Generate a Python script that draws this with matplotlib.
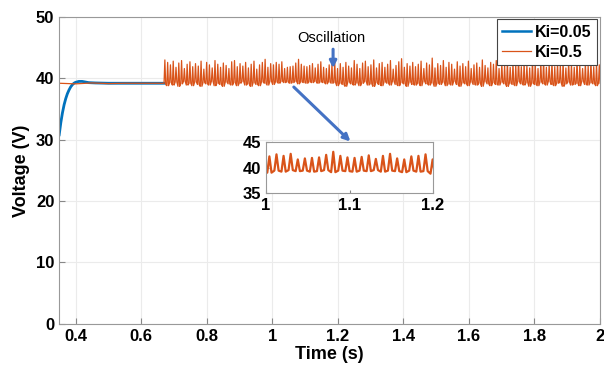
import numpy as np
import matplotlib.pyplot as plt

# Ki=0.05 response (time, voltage); hidden under the Ki=0.5 trace after ~0.67 s
blue_t = [0.35, 0.355, 0.36, 0.365, 0.37, 0.375, 0.38, 0.385, 0.39, 0.395, 0.40,
          0.41, 0.42, 0.43, 0.44, 0.46, 0.50, 0.60, 0.67]
blue_v = [30.8, 32.8, 34.4, 35.7, 36.7, 37.5, 38.1, 38.6, 38.95, 39.2, 39.35,
          39.5, 39.5, 39.4, 39.3, 39.25, 39.2, 39.2, 39.2]

# Ki=0.5 response: flat part, then oscillation (trough / peak per cycle)
flat_t = [0.35, 0.40, 0.45, 0.50, 0.55, 0.60, 0.67]
flat_v = [39.2, 39.1, 39.25, 39.15, 39.2, 39.2, 39.2]
osc_start = 0.67
osc_period = 0.0085
osc_peaks = [
    43.0, 42.6, 42.2, 42.8, 41.8, 42.5, 42.9, 41.6, 42.3, 42.7,
    41.9, 42.4, 42.0, 42.8, 41.5, 42.6, 42.2, 41.7, 42.9, 42.3,
    41.8, 42.5, 42.1, 41.6, 42.7, 42.9, 41.9, 42.4, 42.0, 42.6,
    41.7, 42.3, 42.8, 41.5, 42.2, 42.6, 43.1, 41.8, 42.4, 42.2,
    42.6, 42.3, 42.7, 41.6, 41.8, 41.9, 42.0, 42.5, 43.1, 42.3,
    42.0, 41.9, 42.1, 42.4, 41.7, 42.3, 42.7, 41.8, 41.6, 42.2,
    42.3, 42.6, 41.6, 42.4, 41.8, 42.6, 42.0, 41.7, 42.9, 42.3,
    41.6, 42.5, 42.8, 41.9, 42.2, 43.0, 41.7, 42.4, 42.6, 41.8,
    42.3, 42.9, 41.5, 42.1, 42.7, 43.2, 41.8, 42.4, 42.0, 42.6,
    41.9, 42.3, 42.8, 41.6, 42.5, 42.2, 43.3, 41.7, 42.4, 42.1,
    42.9, 41.8, 42.6, 42.3, 41.5, 42.7, 42.0, 42.4, 41.9, 42.8,
    41.6, 42.2, 42.5, 41.8, 43.0, 42.1, 41.7, 42.6, 42.3, 42.9,
    41.6, 42.4, 42.0, 42.7, 41.8, 42.5, 42.2, 43.1, 41.9, 42.6,
    42.0, 41.7, 42.8, 42.3, 41.6, 42.5, 42.9, 41.8, 42.2, 42.7,
    41.9, 42.4, 42.1, 42.8, 41.7, 42.6, 42.3, 41.8, 42.9, 42.2,
    41.6, 42.5, 42.0, 42.7, 41.9, 42.4, 42.2,
]
osc_troughs = [
    39.0, 38.8, 39.3, 38.9, 39.4, 38.7, 39.1, 39.5, 38.9, 39.2,
    38.8, 39.4, 39.0, 38.7, 39.3, 39.1, 38.9, 39.5, 38.8, 39.2,
    39.0, 38.7, 39.4, 39.1, 38.9, 39.3, 38.8, 39.2, 39.5, 38.9,
    39.1, 38.7, 39.3, 39.0, 38.8, 39.4, 39.2, 38.9, 39.5, 39.0,
    39.4, 39.2, 39.5, 39.3, 39.4, 39.2, 39.3, 39.5, 39.1, 39.4,
    39.3, 39.2, 39.4, 39.3, 39.5, 39.2, 39.4, 39.3, 39.1, 39.4,
    39.2, 39.3, 38.8, 39.2, 39.0, 38.7, 39.4, 39.1, 38.9, 39.3,
    38.8, 39.2, 39.5, 38.9, 39.1, 38.7, 39.3, 39.0, 38.8, 39.4,
    39.2, 38.9, 39.5, 39.0, 38.8, 39.3, 39.1, 38.7, 39.4, 39.0,
    38.9, 39.2, 38.8, 39.5, 39.1, 38.9, 39.3, 38.7, 39.2, 39.0,
    39.4, 38.8, 39.1, 38.9, 39.5, 39.0, 38.7, 39.3, 39.1, 38.8,
    39.4, 39.0, 38.9, 39.2, 38.7, 39.5, 39.1, 38.8, 39.3, 39.0,
    38.9, 39.4, 39.1, 38.7, 39.2, 39.0, 38.8, 39.5, 39.1, 38.9,
    39.3, 38.7, 39.2, 39.0, 38.8, 39.4, 39.1, 38.9, 39.5, 39.0,
    38.8, 39.2, 39.3, 38.7, 39.1, 39.4, 38.9, 39.0, 39.2, 38.8,
    39.5, 39.0, 38.9, 39.3, 39.1, 38.8, 39.2,
]

xticks = [0.4, 0.6, 0.8, 1, 1.2, 1.4, 1.6, 1.8, 2]
xticklabels = ["0.4", "0.6", "0.8", "1", "1.2", "1.4", "1.6", "1.8", "2"]
yticks = [0, 10, 20, 30, 40, 50]

blue = "#0072BD"
orange = "#D95319"

# build the orange series: each cycle is trough -> narrow peak -> trough
n = len(osc_peaks)
cyc0 = osc_start + np.arange(n) * osc_period
osc_t = np.column_stack([cyc0, cyc0 + 0.3 * osc_period, cyc0 + 0.6 * osc_period]).ravel()
osc_v = np.column_stack([osc_troughs, osc_peaks, osc_troughs]).ravel()
orange_t = np.concatenate([flat_t, osc_t[1:]])
orange_v = np.concatenate([flat_v, osc_v[1:]])

plt.rcParams['font.family'] = ['Liberation Sans', 'DejaVu Sans']
fig = plt.figure(figsize=(6.04, 3.77), dpi=100)
ax = fig.add_axes([0.098, 0.141, 0.895, 0.814])
ax.plot(blue_t, blue_v, color=blue, lw=2, label="Ki=0.05")
ax.plot(orange_t, orange_v, color=orange, lw=0.9, label="Ki=0.5")
ax.set_xlim(0.35, 2)
ax.set_ylim(0, 50)
ax.set_xticks(xticks)
ax.set_xticklabels(xticklabels)
ax.set_yticks(yticks)
ax.grid(True, color="#ebebeb", lw=0.8)
ax.set_axisbelow(True)
ax.tick_params(direction="in", labelsize=12, color="#888888", length=4, top=False, right=False)
for lab in ax.get_xticklabels() + ax.get_yticklabels():
    lab.set_fontweight("bold")
for s in ax.spines.values():
    s.set_color("#999999")
ax.set_xlabel("Time (s)", fontsize=13, fontweight="bold", labelpad=2)
ax.set_ylabel("Voltage (V)", fontsize=13, fontweight="bold", labelpad=4)

leg = ax.legend(loc="upper right", prop={"weight": "bold", "size": 11.5},
                handlelength=1.8, borderaxespad=0.15, fancybox=False, framealpha=1,
                edgecolor="#444444", borderpad=0.35, labelspacing=0.3, handletextpad=0.25)
leg.get_frame().set_linewidth(0.8)
leg.get_lines()[0].set_linewidth(1.8)

# annotations
ax.text(1.18, 46.6, "Oscillation", fontsize=10.5, ha="center", va="center")
ax.annotate("", xy=(1.186, 41.2), xytext=(1.186, 45.2),
            arrowprops=dict(arrowstyle="-|>", color="#4472C4", lw=2.2, mutation_scale=10))
ax.annotate("", xy=(1.245, 29.4), xytext=(1.06, 38.9),
            arrowprops=dict(arrowstyle="-|>", color="#4472C4", lw=2.2, mutation_scale=10))

# inset zoom
ins = fig.add_axes([0.4404, 0.488, 0.2765, 0.135])
ins.plot(orange_t, orange_v, color=orange, lw=1.6)
ins.set_xlim(1, 1.2)
ins.set_ylim(35, 45)
ins.set_xticks([1, 1.1, 1.2])
ins.set_xticklabels(["1", "1.1", "1.2"])
ins.set_yticks([35, 40, 45])
ins.tick_params(direction="in", labelsize=12, length=2, color="#888888")
for lab in ins.get_xticklabels() + ins.get_yticklabels():
    lab.set_fontweight("bold")
for s in ins.spines.values():
    s.set_color("#999999")

fig.savefig("out.png", dpi=100)
